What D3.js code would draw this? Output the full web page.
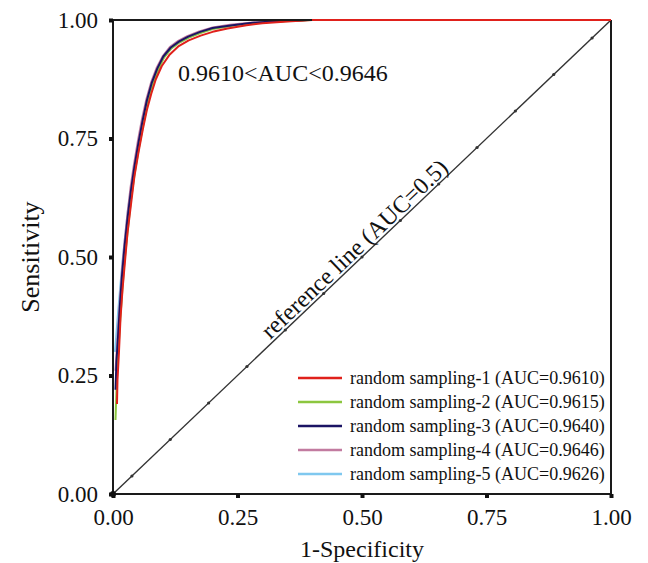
<!DOCTYPE html>
<html>
<head>
<meta charset="utf-8">
<script src="https://cdn.jsdelivr.net/npm/d3@7/dist/d3.min.js"></script>
<style>
  html, body { margin: 0; padding: 0; background: #fff; }
  svg { display: block; font-family: "Liberation Serif", "Times New Roman", serif; }
</style>
</head>
<body>
<svg id="chart" width="648" height="563"></svg>
<script>
// ---------- data ----------
const xTicks = [0, 0.25, 0.5, 0.75, 1.0];
const yTicks = [0, 0.25, 0.5, 0.75, 1.0];

const seriesNames = [
  "random sampling-1 (AUC=0.9610)",
  "random sampling-2 (AUC=0.9615)",
  "random sampling-3 (AUC=0.9640)",
  "random sampling-4 (AUC=0.9646)",
  "random sampling-5 (AUC=0.9626)"
];
const seriesColors = ["#e0211b", "#8cc63f", "#1b1464", "#c27ba0", "#7fc8ef"];

const roc1 = [[0.008,0.19],[0.009,0.24],[0.012,0.30],[0.015,0.37],[0.019,0.43],[0.024,0.49],[0.029,0.55],[0.036,0.61],[0.043,0.67],[0.051,0.72],[0.060,0.77],[0.068,0.81],[0.077,0.845],[0.086,0.875],[0.098,0.903],[0.113,0.926],[0.132,0.945],[0.152,0.957],[0.176,0.967],[0.200,0.975],[0.230,0.982],[0.268,0.989],[0.300,0.993],[0.350,0.997],[0.400,1.0],[1.0,1.0]];
const roc2 = [[0.005,0.156],[0.007,0.22],[0.010,0.29],[0.014,0.36],[0.018,0.42],[0.023,0.49],[0.029,0.55],[0.036,0.62],[0.044,0.68],[0.052,0.73],[0.060,0.775],[0.069,0.82],[0.079,0.86],[0.090,0.893],[0.102,0.92],[0.117,0.94],[0.134,0.953],[0.152,0.963],[0.177,0.973],[0.200,0.981],[0.240,0.988],[0.280,0.993],[0.330,0.997],[0.380,0.999],[0.396,1.0],[1.0,1.0]];
const roc3 = [[0.005,0.22],[0.007,0.28],[0.010,0.33],[0.014,0.40],[0.018,0.46],[0.023,0.52],[0.029,0.58],[0.036,0.64],[0.043,0.69],[0.051,0.74],[0.059,0.785],[0.068,0.83],[0.078,0.868],[0.089,0.898],[0.101,0.923],[0.116,0.942],[0.133,0.955],[0.151,0.965],[0.175,0.975],[0.200,0.983],[0.240,0.989],[0.280,0.994],[0.320,0.997],[0.370,0.999],[0.390,1.0],[1.0,1.0]];
const roc4 = [[0.005,0.26],[0.008,0.31],[0.011,0.36],[0.014,0.41],[0.018,0.47],[0.023,0.53],[0.029,0.59],[0.035,0.645],[0.042,0.695],[0.050,0.745],[0.058,0.79],[0.067,0.833],[0.077,0.870],[0.088,0.900],[0.100,0.924],[0.114,0.943],[0.131,0.956],[0.149,0.966],[0.173,0.976],[0.200,0.984],[0.235,0.99],[0.275,0.994],[0.320,0.997],[0.360,0.999],[0.385,1.0],[1.0,1.0]];
const roc5 = [[0.004,0.30],[0.007,0.34],[0.010,0.38],[0.014,0.43],[0.019,0.49],[0.024,0.54],[0.030,0.60],[0.037,0.65],[0.044,0.70],[0.052,0.745],[0.060,0.79],[0.069,0.83],[0.079,0.866],[0.090,0.896],[0.102,0.921],[0.117,0.940],[0.134,0.953],[0.152,0.963],[0.176,0.974],[0.200,0.982],[0.240,0.989],[0.280,0.993],[0.325,0.997],[0.370,0.999],[0.390,1.0],[1.0,1.0]];
const rocSeries = [roc1, roc2, roc3, roc4, roc5];

const refLine = [[0,0],[1,1]];
const refMarkers = [0.038,0.115,0.192,0.269,0.346,0.423,0.5,0.577,0.654,0.731,0.808,0.885,0.962];

const annotationText = "0.9610<AUC<0.9646";
const refLabel = "reference line (AUC=0.5)";
const xTitle = "1-Specificity";
const yTitle = "Sensitivity";

// ---------- layout ----------
const svg = d3.select("#chart");
const x = d3.scaleLinear().domain([0, 1]).range([113, 611]);
const y = d3.scaleLinear().domain([0, 1]).range([494, 20]);
const fmt = d3.format(".2f");

// reference diagonal
const line = d3.line().x(d => x(d[0])).y(d => y(d[1]));
svg.append("path").datum(refLine).attr("d", line)
  .attr("fill", "none").attr("stroke", "#333").attr("stroke-width", 1.4);
svg.append("g").selectAll("circle").data(refMarkers).join("circle")
  .attr("cx", d => x(d)).attr("cy", d => y(d)).attr("r", 1.6).attr("fill", "#333");

// ROC curves (red on top)
const order = [4, 3, 1, 2, 0];
order.forEach(i => {
  svg.append("path").datum(rocSeries[i]).attr("d", line)
    .attr("fill", "none").attr("stroke", seriesColors[i])
    .attr("stroke-width", 2).attr("stroke-linejoin", "round");
});

// frame
const frame = svg.append("g").attr("fill", "none").attr("stroke", "#1a1a1a").attr("stroke-width", 2);
frame.append("line").attr("x1", x(0)).attr("x2", x(0)).attr("y1", y(0)).attr("y2", y(1));
frame.append("line").attr("x1", x(0)).attr("x2", x(1)).attr("y1", y(0)).attr("y2", y(0));
frame.append("line").attr("x1", x(0)).attr("x2", x(0.40)).attr("y1", y(1)).attr("y2", y(1));
frame.append("line").attr("x1", x(1)).attr("x2", x(1)).attr("y1", y(0)).attr("y2", y(1));
// red overlays top edge beyond 0.40
svg.append("path").datum(roc1.slice(-2)).attr("d", line).attr("fill","none")
  .attr("stroke", seriesColors[0]).attr("stroke-width", 2);

// axes
const xAxis = svg.append("g").attr("transform", `translate(0,${y(0)})`)
  .call(d3.axisBottom(x).tickValues(xTicks).tickFormat(fmt).tickSize(4).tickPadding(11));
const yAxis = svg.append("g").attr("transform", `translate(${x(0)},0)`)
  .call(d3.axisLeft(y).tickValues(yTicks).tickFormat(fmt).tickSize(4).tickPadding(11));
[xAxis, yAxis].forEach(g => {
  g.select(".domain").remove();
  g.selectAll(".tick line").attr("stroke", "#111").attr("stroke-width", 4);
  g.selectAll(".tick text").attr("fill", "#111").style("font-size", "23px")
    .style("font-family", "'Liberation Serif', serif");
});
// corner dot
svg.append("circle").attr("cx", x(0)).attr("cy", y(0)).attr("r", 3).attr("fill", "#111");

// axis titles
svg.append("text").attr("x", (x(0) + x(1)) / 2).attr("y", 557)
  .attr("text-anchor", "middle").style("font-size", "24px").attr("fill", "#111").text(xTitle);
svg.append("text").attr("transform", `translate(39,${(y(0) + y(1)) / 2}) rotate(-90)`)
  .attr("text-anchor", "middle").style("font-size", "26px").attr("fill", "#111").text(yTitle);

// annotation
svg.append("text").attr("x", 178).attr("y", 81).style("font-size", "24px")
  .attr("fill", "#111").text(annotationText);

// reference line label
const ang = Math.atan2(y(0) - y(1), x(1) - x(0)) * 180 / Math.PI;
svg.append("text")
  .attr("transform", `translate(${x(0.5)},${y(0.5)}) rotate(${-ang})`)
  .attr("text-anchor", "middle").attr("dy", -3)
  .style("font-size", "24px").attr("fill", "#111").text(refLabel);

// legend
const legend = svg.append("g");
seriesNames.forEach((name, i) => {
  const ly = 378 + i * 24;
  legend.append("line").attr("x1", 298).attr("x2", 342).attr("y1", ly).attr("y2", ly)
    .attr("stroke", seriesColors[i]).attr("stroke-width", 2.5);
  legend.append("text").attr("x", 350).attr("y", ly).attr("dy", "0.34em")
    .style("font-size", "18px").attr("fill", "#111").text(name);
});
</script>
</body>
</html>
